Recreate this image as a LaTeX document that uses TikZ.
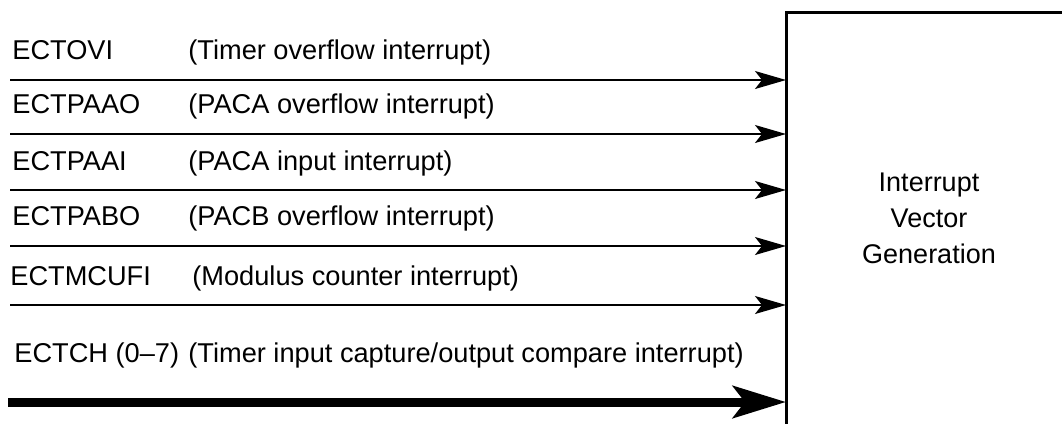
\documentclass[tikz,border=0pt]{standalone}
\usepackage{fontspec}
\setmainfont{Liberation Sans}
\usetikzlibrary{arrows.meta}

\begin{document}
\begin{tikzpicture}[x=0.5pt, y=-0.5pt,
    >={Stealth[length=15.5pt, width=9pt, inset=3.5pt]},
    lbl/.style={anchor=base west, inner sep=0pt, font=\fontsize{13.6}{16}\selectfont},
    sig/.style={->, line width=0.75pt}]
    \useasboundingbox (0,0) rectangle (1062,424);

    % block, open to the right and at the bottom
    \coordinate (ivgtl) at (786,12);
    \draw[line width=1.5pt] (1062,12) -- (ivgtl) -- (786,424);
    \node[font=\fontsize{13.5}{18}\selectfont, align=center] (ivg) at (929,218)
        {Interrupt\\Vector\\Generation};

    % interrupt sources
    \coordinate (tovf) at (10,80);
    \coordinate (paao) at (10,134);
    \coordinate (paai) at (10,190);
    \coordinate (pabo) at (10,246);
    \coordinate (mcuf) at (10,305);
    \coordinate (tch) at (8,402);

    \node[lbl] (tovfname) at (12,59) {ECTOVI};
    \node[lbl] (tovftext) at (188,59) {(Timer overflow interrupt)};
    \node[lbl] (paaoname) at (12,113) {ECTPAAO};
    \node[lbl] (paaotext) at (188,113) {(PACA overflow interrupt)};
    \node[lbl] (paainame) at (12,170) {ECTPAAI};
    \node[lbl] (paaitext) at (188,170) {(PACA input interrupt)};
    \node[lbl] (paboname) at (12,225) {ECTPABO};
    \node[lbl] (pabotext) at (188,225) {(PACB overflow interrupt)};
    \node[lbl] (mcufname) at (10,285) {ECTMCUFI};
    \node[lbl] (mcuftext) at (192,285) {(Modulus counter interrupt)};
    \node[lbl] (tchname) at (14,362) {ECTCH (0--7)};
    \node[lbl] (tchtext) at (188,362) {(Timer input capture/output compare interrupt)};

    \draw[sig] (tovf) -- (tovf -| ivgtl);
    \draw[sig] (paao) -- (paao -| ivgtl);
    \draw[sig] (paai) -- (paai -| ivgtl);
    \draw[sig] (pabo) -- (pabo -| ivgtl);
    \draw[sig] (mcuf) -- (mcuf -| ivgtl);
    \draw[->, line width=4.5pt, >={Stealth[length=26.5pt, width=16pt, inset=6pt]}]
        (tch) -- (tch -| ivgtl);
\end{tikzpicture}
\end{document}
